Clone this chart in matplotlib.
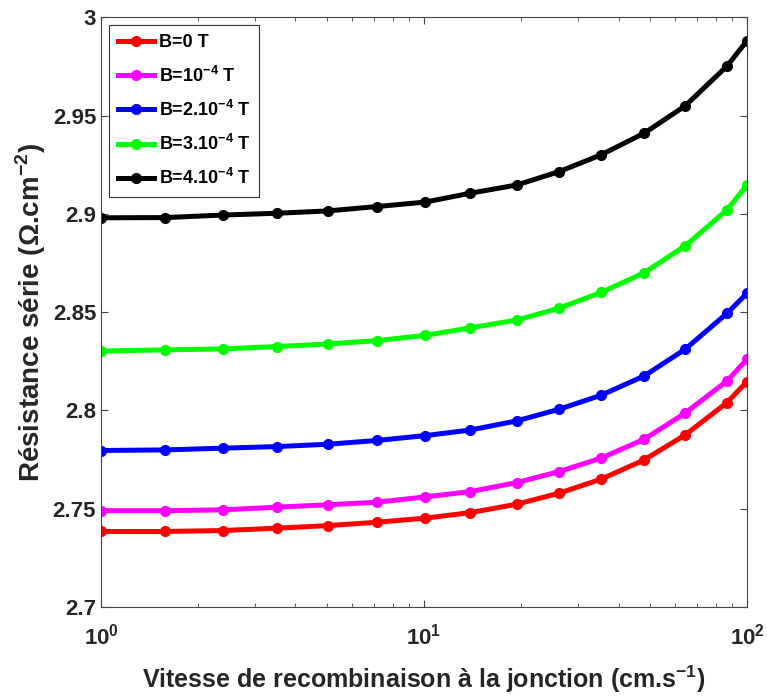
import matplotlib
matplotlib.use('Agg')

import numpy as np
import matplotlib.pyplot as plt

# vitesse de recombinaison (cm/s)
sf = [1.0, 1.58, 2.39, 3.51, 5.05, 7.14, 10.1, 13.9, 19.4, 26.2, 35.3, 48.0, 64.3, 86.7, 100.0]

# résistance série pour chaque champ B
rs_b0 = [2.7384, 2.7384, 2.7389, 2.7401, 2.7414, 2.7431, 2.7452, 2.7480, 2.7523,
         2.7579, 2.7650, 2.7748, 2.7875, 2.8040, 2.8147]
rs_b1 = [2.7490, 2.7490, 2.7494, 2.7508, 2.7520, 2.7533, 2.7560, 2.7587, 2.7633,
         2.7689, 2.7757, 2.7853, 2.7986, 2.8150, 2.8260]
rs_b2 = [2.7796, 2.7799, 2.7808, 2.7816, 2.7828, 2.7847, 2.7872, 2.7900, 2.7947,
         2.8006, 2.8077, 2.8175, 2.8311, 2.8494, 2.8596]
rs_b3 = [2.8302, 2.8308, 2.8313, 2.8325, 2.8338, 2.8355, 2.8382, 2.8420, 2.8460,
         2.8520, 2.8600, 2.8700, 2.8837, 2.9020, 2.9147]
rs_b4 = [2.8980, 2.8981, 2.8994, 2.9003, 2.9015, 2.9037, 2.9060, 2.9105, 2.9147,
         2.9215, 2.9300, 2.9410, 2.9549, 2.9752, 2.9881]

labels = ['B=0 T', r'B=10$^{\mathbf{-4}}$ T', r'B=2.10$^{\mathbf{-4}}$ T',
          r'B=3.10$^{\mathbf{-4}}$ T', r'B=4.10$^{\mathbf{-4}}$ T']
colors = ['#ff0000', '#ff00ff', '#0000ff', '#00ff00', '#000000']
series = [rs_b0, rs_b1, rs_b2, rs_b3, rs_b4]

plt.rcParams['font.family'] = ['Liberation Sans', 'DejaVu Sans']
plt.rcParams['mathtext.fontset'] = 'custom'
plt.rcParams['mathtext.rm'] = 'Liberation Sans:bold'
plt.rcParams['mathtext.bf'] = 'Liberation Sans:bold'

fig = plt.figure(figsize=(7.67, 7.0), dpi=100)
ax = fig.add_axes([0.1317, 0.1329, 0.8423, 0.8424])

for ys, c, lab in zip(series, colors, labels):
    ax.plot(sf, ys, '-o', color=c, linewidth=3.6, markersize=7, label=lab)

ax.set_xscale('log')
ax.set_xlim(1, 100)
ax.set_ylim(2.7, 3.0)
ax.set_yticks([2.7, 2.75, 2.8, 2.85, 2.9, 2.95, 3.0])
ax.set_yticklabels(['2.7', '2.75', '2.8', '2.85', '2.9', '2.95', '3'])

ax.tick_params(axis='both', which='major', labelsize=16, direction='in',
               length=5, width=0.8, top=True, right=True, color='#444444')
ax.tick_params(axis='x', which='minor', direction='in', length=3, top=True,
               color='#444444')
ax.tick_params(axis='x', which='major', pad=12)
for lbl in ax.get_xticklabels() + ax.get_yticklabels():
    lbl.set_fontweight('bold')
    lbl.set_color('#262626')
for sp in ax.spines.values():
    sp.set_color('#444444')
    sp.set_linewidth(0.8)

ax.set_xlabel(r'Vitesse de recombinaison à la jonction (cm.s$^{\mathbf{-1}}$)',
              fontsize=18, fontweight='bold', color='#262626', labelpad=10)
ax.set_ylabel(r'Résistance série ($\Omega$.cm$^{\mathbf{-2}}$)',
              fontsize=20, fontweight='bold', color='#262626', labelpad=3)

leg = ax.legend(loc='upper left', fontsize=13, handlelength=2.0,
                labelspacing=0.78, borderpad=0.5, handletextpad=0.25,
                fancybox=False, edgecolor='#333333', framealpha=1,
                bbox_to_anchor=(0.0, 1.0), borderaxespad=0.45)
for t in leg.get_texts():
    t.set_fontweight('bold')
leg.get_frame().set_linewidth(0.8)

fig.savefig('out.png', dpi=100)
